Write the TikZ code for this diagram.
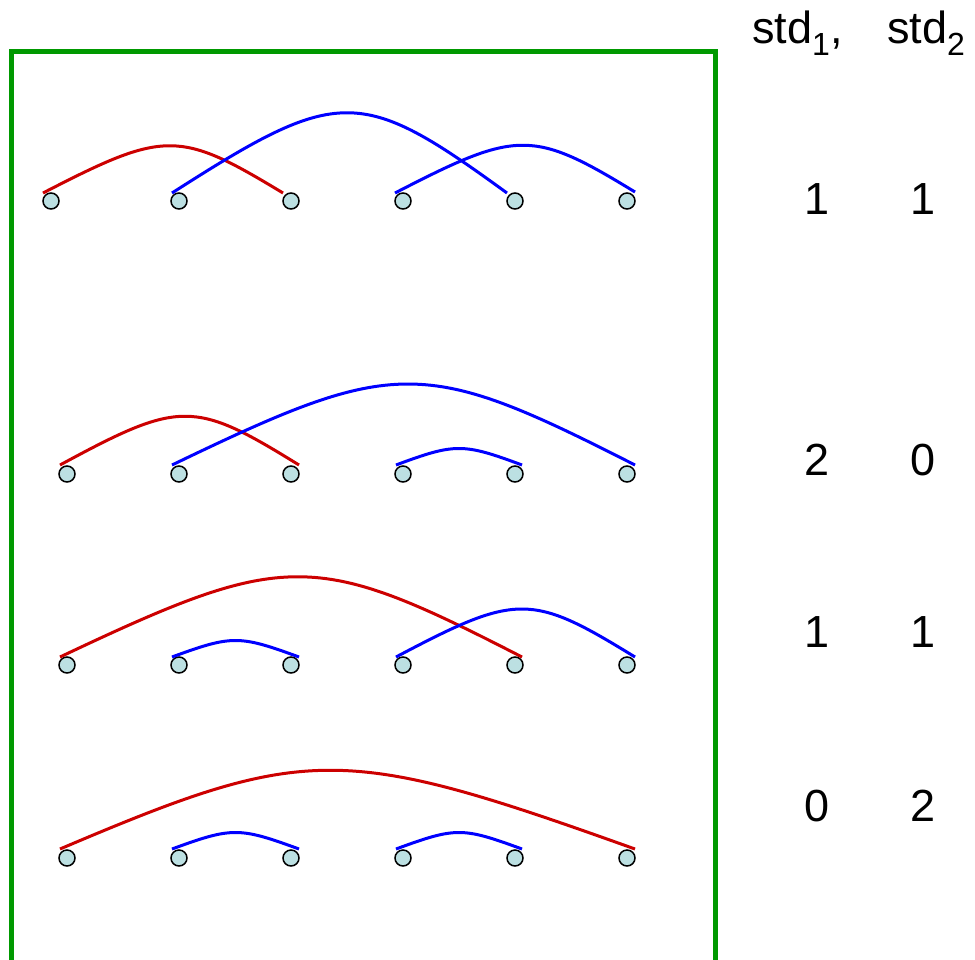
\documentclass[tikz,border=0pt]{standalone}
\usepackage{fontspec}
\setmainfont{Liberation Sans}
\usepackage{xcolor}
\usepackage{tikz}
\usetikzlibrary{positioning}

\definecolor{dotfill}{RGB}{188,224,226}
\definecolor{arcred}{RGB}{204,0,0}
\definecolor{framegreen}{RGB}{0,153,0}
\newcommand{\lowidx}[1]{\raisebox{-12pt}{\fontsize{32}{32}\selectfont #1}}

\begin{document}
\begin{tikzpicture}[x=1pt, y=-1pt,
  dot/.style={circle, draw=black, line width=1.5pt, fill=dotfill, minimum size=16pt, inner sep=0pt},
  redarc/.style={draw=arcred, line width=3pt},
  bluearc/.style={draw=blue, line width=3pt},
  num/.style={inner sep=0pt, font=\fontsize{45}{50}\selectfont},
  frame/.style={draw=framegreen, line width=5pt}]
\useasboundingbox (0,0) rectangle (975,959);

% Frame
\draw[frame] (11,970) -- (11,51) -- (715,51) -- (715,970);

% Header
\node[num, anchor=base west] (hd1) at (752,43) {std\lowidx{1},};
\node[num, anchor=base west] (hd2) at (887,43) {std\lowidx{2}};

% Points
\foreach \x [count=\i] in {51,179,291,403,515,627}
  \node[dot] (a\i) at (\x,201) {};
\foreach \r/\y in {b/474,c/665,d/858}
  \foreach \x [count=\i] in {67,179,291,403,515,627}
    \node[dot] (\r\i) at (\x,\y) {};

% Row 1
\draw[redarc] ([shift={(-8,-8)}]a1.center) .. controls +(122,-63) and +(-104,-63) .. ([shift={(-8,-8)}]a3.center);
\draw[bluearc] ([shift={(-7,-8)}]a2.center) .. controls +(167,-107) and +(-147,-107) .. ([shift={(-8,-8)}]a5.center);
\draw[bluearc] ([shift={(-8,-8)}]a4.center) .. controls +(122,-63) and +(-103,-63) .. ([shift={(8,-9)}]a6.center);

% Row 2
\draw[redarc] ([shift={(-7,-9)}]b1.center) .. controls +(120,-65) and +(-105,-65) .. ([shift={(8,-9)}]b3.center);
\draw[bluearc] ([shift={(-7,-9)}]b2.center) .. controls +(224,-108) and +(-212,-108) .. ([shift={(8,-9)}]b6.center);
\draw[bluearc] ([shift={(-7,-9)}]b4.center) .. controls +(59,-22) and +(-59,-22) .. ([shift={(7,-9)}]b5.center);

% Row 3
\draw[redarc] ([shift={(-7,-8)}]c1.center) .. controls +(226,-107) and +(-208,-107) .. ([shift={(7,-8)}]c5.center);
\draw[bluearc] ([shift={(-7,-8)}]c2.center) .. controls +(60,-22) and +(-60,-22) .. ([shift={(8,-8)}]c3.center);
\draw[bluearc] ([shift={(-7,-8)}]c4.center) .. controls +(121,-64) and +(-104,-64) .. ([shift={(8,-8)}]c6.center);

% Row 4
\draw[redarc] ([shift={(-7,-9)}]d1.center) .. controls +(247,-105) and +(-293,-105) .. ([shift={(8,-9)}]d6.center);
\draw[bluearc] ([shift={(-7,-9)}]d2.center) .. controls +(60,-22) and +(-60,-22) .. ([shift={(8,-9)}]d3.center);
\draw[bluearc] ([shift={(-7,-9)}]d4.center) .. controls +(60,-22) and +(-60,-22) .. ([shift={(7,-9)}]d5.center);

% Counts
\node[num] (n1a) at (817,199) {1};
\node[num] (n1b) at (923,199) {1};
\node[num] (n2a) at (817,460) {2};
\node[num] (n2b) at (923,460) {0};
\node[num] (n3a) at (817,632) {1};
\node[num] (n3b) at (923,632) {1};
\node[num] (n4a) at (817,806) {0};
\node[num] (n4b) at (923,806) {2};
\end{tikzpicture}
\end{document}
